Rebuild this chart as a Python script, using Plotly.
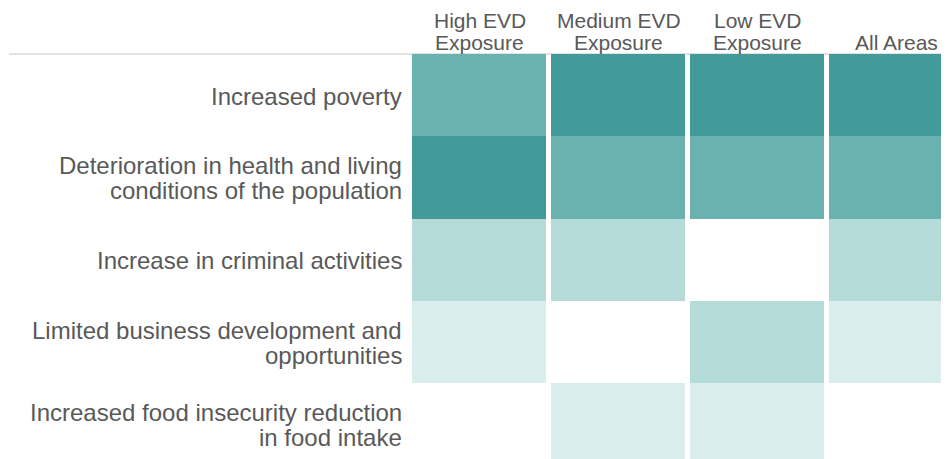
import plotly.graph_objects as go

# ---- data ----
row_labels = [
    "Increased poverty",
    "Deterioration in health and living<br>conditions of the population",
    "Increase in criminal activities",
    "Limited business development and<br>opportunities",
    "Increased food insecurity reduction<br>in food intake",
]
col_labels = ["High EVD<br>Exposure", "Medium EVD<br>Exposure", "Low EVD<br>Exposure", "All Areas"]

# rank of each concern (1 = most cited, None = not ranked)
high_exposure = [2, 1, 3, 4, None]
medium_exposure = [1, 2, 3, None, 4]
low_exposure = [1, 2, None, 3, 4]
all_areas = [1, 2, 3, 4, None]

columns = [high_exposure, medium_exposure, low_exposure, all_areas]
z = [[col[i] for col in columns] for i in range(len(row_labels))]

# ---- style ----
DARK = "#439b99"
MED = "#69b2af"
LIGHT = "#b4dbd8"
VLIGHT = "#d9eeec"
TEXT = "#595959"
FONT = "Liberation Sans, Arial, sans-serif"
LABEL_SIZE = 24
LABEL_LINE = 25
HEAD_SIZE = 21
HEAD_LINE = 22.5

colorscale = [
    [0.0, DARK], [0.25, DARK],
    [0.25, MED], [0.5, MED],
    [0.5, LIGHT], [0.75, LIGHT],
    [0.75, VLIGHT], [1.0, VLIGHT],
]

fig = go.Figure(
    go.Heatmap(
        z=z,
        x=list(range(len(col_labels))),
        y=list(range(len(row_labels))),
        zmin=0.5,
        zmax=4.5,
        colorscale=colorscale,
        showscale=False,
        xgap=5,
        ygap=0,
        hoverinfo="skip",
    )
)

annotations = []
for i, lab in enumerate(row_labels):
    lines = lab.split("<br>")
    n = len(lines)
    for k, line in enumerate(lines):
        annotations.append(dict(
            text=line, x=-0.5, y=i, xref="x", yref="y",
            xanchor="right", yanchor="middle", align="right", xshift=-7,
            yshift=-(k - (n - 1) / 2) * LABEL_LINE - 1,
            showarrow=False, borderpad=0,
            font=dict(family=FONT, size=LABEL_SIZE, color=TEXT),
        ))
for j, lab in enumerate(col_labels):
    lines = lab.split("<br>")
    n = len(lines)
    for k, line in enumerate(lines):
        annotations.append(dict(
            text=line, x=j, y=1, xref="x", yref="paper",
            xanchor="center", yanchor="middle", align="center",
            yshift=11.5 + (n - 1 - k) * HEAD_LINE,
            showarrow=False, borderpad=0,
            font=dict(family=FONT, size=HEAD_SIZE, color=TEXT),
        ))

fig.update_layout(
    width=949,
    height=459,
    margin=dict(l=402, r=0, t=46, b=0, pad=0),
    paper_bgcolor="white",
    plot_bgcolor="white",
    xaxis=dict(range=[-0.5, 3.435], visible=False, fixedrange=True),
    yaxis=dict(range=[4.518, -0.5], visible=False, fixedrange=True),
    annotations=annotations,
    shapes=[dict(
        type="line", xref="paper", yref="paper",
        x0=-0.733, x1=1, y0=1, y1=1,
        line=dict(color="#d9d9d9", width=1.5), layer="below",
    )],
    showlegend=False,
)

fig.write_html("out.html")
